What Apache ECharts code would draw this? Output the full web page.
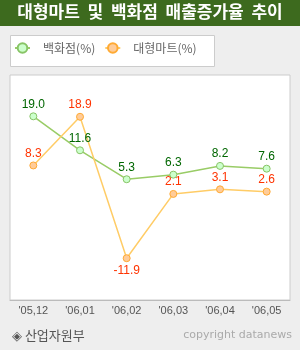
<!DOCTYPE html>
<html>
<head>
<meta charset="utf-8">
<script src="https://cdn.jsdelivr.net/npm/echarts@6/dist/echarts.min.js"></script>
<style>
  html, body { margin: 0; padding: 0; background: #eeeeee; }
  #chart { width: 300px; height: 350px; }
</style>
</head>
<body>
<div id="chart"></div>
<script>
(function () {
  "use strict";

  const categories = ["'05,12", "'06,01", "'06,02", "'06,03", "'06,04", "'06,05"];
  const deptStore = [19.0, 11.6, 5.3, 6.3, 8.2, 7.6];
  const discountStore = [8.3, 18.9, -11.9, 2.1, 3.1, 2.6];
  const seriesNames = ['백화점(%)', '대형마트(%)'];

  const chart = echarts.init(document.getElementById('chart'));

  const labelFont = { fontFamily: 'Liberation Sans', fontSize: 12 };

  chart.setOption({
    backgroundColor: '#eeeeee',
    animation: false,
    graphic: [
      { type: 'rect', left: 0, top: 0, z: -1, shape: { width: 300, height: 26 }, style: { fill: '#3d6a1e' } },
      {
        type: 'text', left: 'center', top: 3, z: 1,
        style: { text: '대형마트  및  백화점  매출증가율  추이', font: 'bold 17px "Noto Sans CJK KR"', fill: '#fff' }
      },
      {
        type: 'rect', left: 10, top: 35, z: -1,
        shape: { width: 204, height: 31 },
        style: { fill: '#fff', stroke: '#cccccc', lineWidth: 1 }
      },
      {
        type: 'text', left: 12, top: 329,
        style: { text: '◈ 산업자원부', font: '13px "Noto Sans CJK KR"', fill: '#555' }
      },
      {
        type: 'text', right: 8, top: 330,
        style: { text: 'copyright datanews', font: '11px "DejaVu Sans"', fill: '#aaa' }
      }
    ],
    legend: {
      left: 14,
      top: 42,
      padding: 0,
      itemWidth: 15,
      itemHeight: 12,
      itemGap: 9,
      textStyle: { color: '#666', fontSize: 12, fontFamily: 'Noto Sans CJK KR', padding: [0, 0, 0, 8] },
      data: seriesNames
    },
    grid: {
      left: 10, right: 10, top: 75, bottom: 50,
      show: true,
      backgroundColor: '#fff',
      borderColor: '#cccccc',
      borderWidth: 1
    },
    xAxis: {
      type: 'category',
      data: categories,
      boundaryGap: true,
      axisLine: { onZero: false, lineStyle: { color: '#bbbbbb' } },
      axisTick: { inside: true, length: 5, alignWithLabel: true, lineStyle: { color: '#999' } },
      axisLabel: { color: '#555', fontSize: 11, fontFamily: 'Liberation Sans', margin: 5 }
    },
    yAxis: {
      type: 'value',
      min: -21,
      max: 28,
      show: false,
      splitLine: { show: false }
    },
    series: [
      {
        name: seriesNames[0],
        type: 'line',
        data: deptStore,
        symbol: 'circle',
        symbolSize: 7,
        lineStyle: { color: '#99cc66', width: 1.5 },
        itemStyle: { color: '#ccffcc', borderColor: '#88c466', borderWidth: 1 },
        label: {
          show: true, position: 'top', distance: 2, color: '#006600',
          formatter: p => p.value.toFixed(1), ...labelFont
        }
      },
      {
        name: seriesNames[1],
        type: 'line',
        data: discountStore.map(v => v < 0 ? { value: v, label: { position: 'bottom' } } : v),
        symbol: 'circle',
        symbolSize: 7,
        lineStyle: { color: '#ffcc66', width: 1.5 },
        itemStyle: { color: '#ffcc99', borderColor: '#ffaa33', borderWidth: 1 },
        label: {
          show: true, position: 'top', distance: 2, color: '#ff3300',
          formatter: p => (typeof p.value === 'number' ? p.value : p.data.value).toFixed(1), ...labelFont
        }
      }
    ]
  });
})();
</script>
</body>
</html>
